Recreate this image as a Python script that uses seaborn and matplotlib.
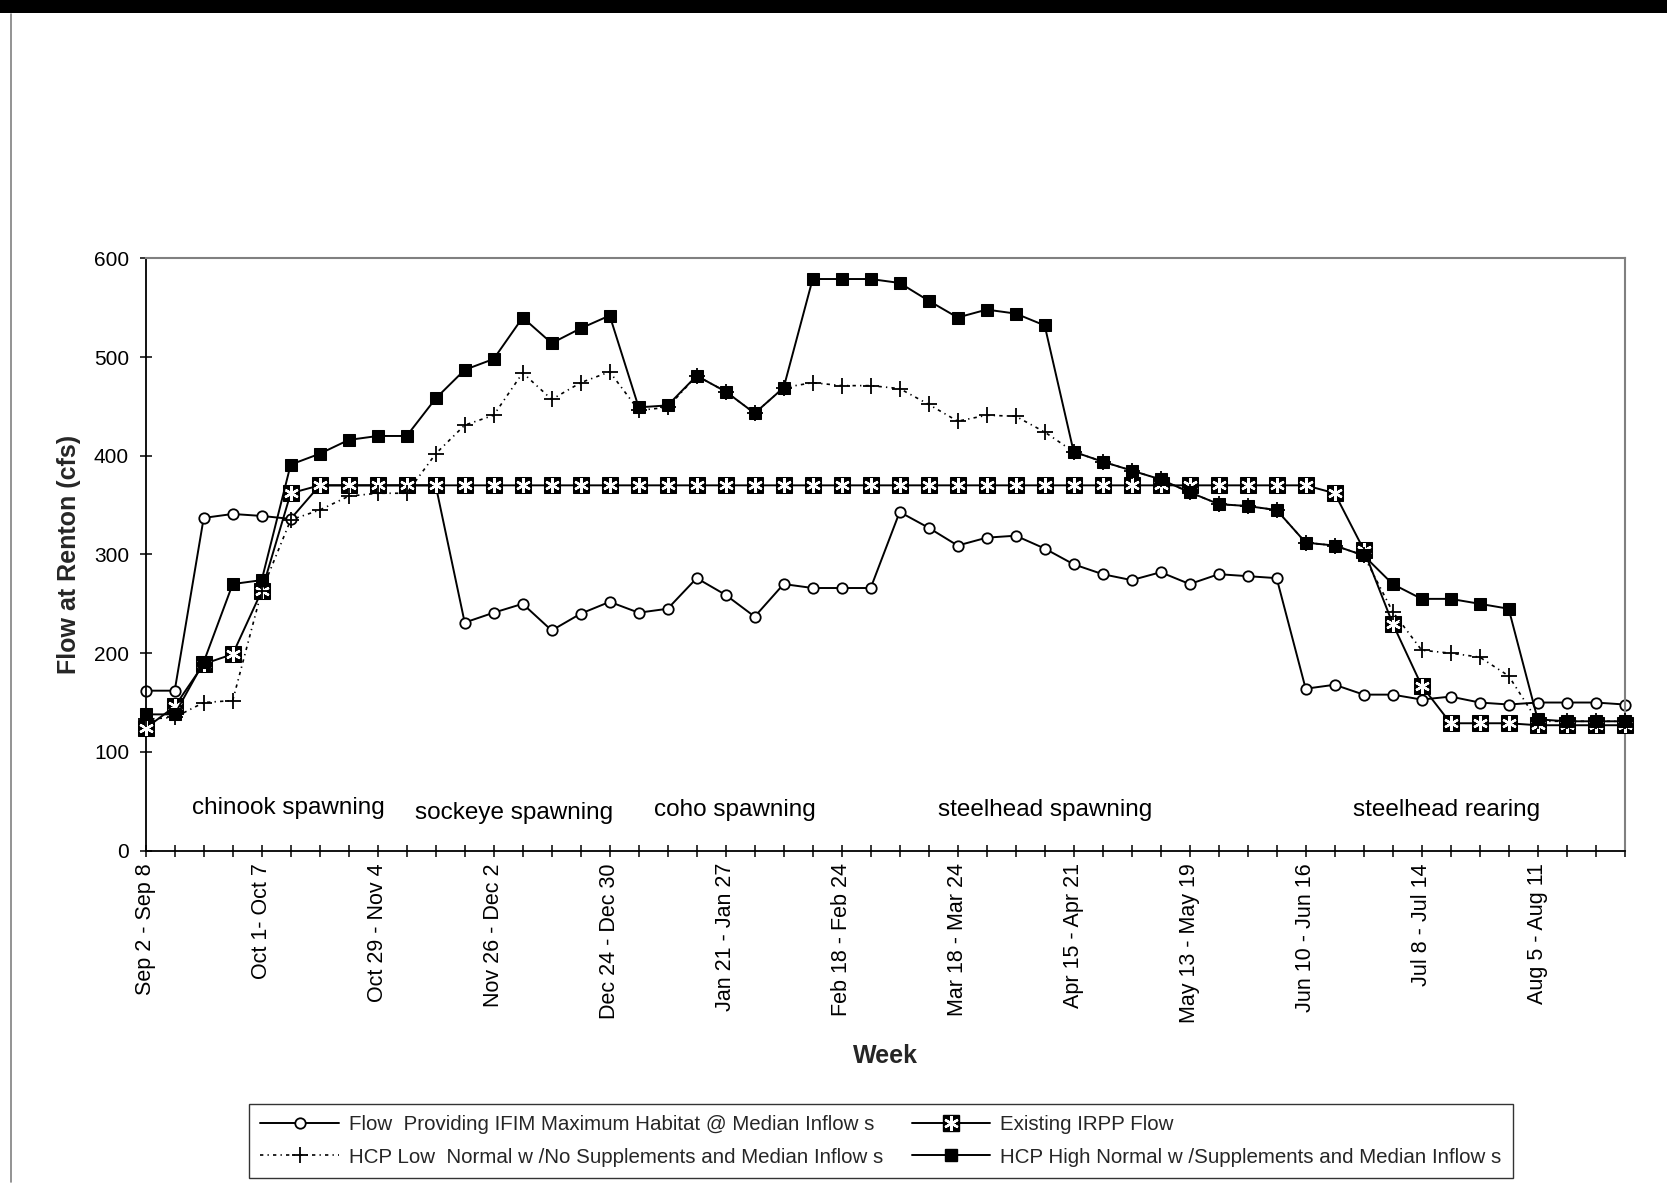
import matplotlib
matplotlib.use("Agg")
import matplotlib.pyplot as plt
from matplotlib.lines import Line2D
from matplotlib.patches import Rectangle
from matplotlib.legend_handler import HandlerTuple
import seaborn as sns

# --- data (cfs at Renton, one value per week) ---
week_idx = list(range(52))

tick_labels = ["Sep 2 - Sep 8", "Oct 1- Oct 7", "Oct 29 - Nov 4", "Nov 26 - Dec 2",
               "Dec 24 - Dec 30", "Jan 21 - Jan 27", "Feb 18 - Feb 24", "Mar 18 - Mar 24",
               "Apr 15 - Apr 21", "May 13 - May 19", "Jun 10 - Jun 16", "Jul 8 - Jul 14",
               "Aug 5 - Aug 11"]

ifim_flow = [162, 162, 337, 341, 339, 336, 370, 370, 370, 370, 370, 231, 241, 250, 223, 240,
             252, 241, 245, 276, 259, 237, 270, 266, 266, 266, 343, 327, 309, 317, 319, 306,
             290, 280, 274, 282, 270, 280, 278, 276, 164, 168, 158, 158, 153, 156, 150, 148,
             150, 150, 150, 148]

irpp_flow = [124, 146, 189, 199, 263, 362, 370, 370, 370, 370, 370, 370, 370, 370, 370, 370,
             370, 370, 370, 370, 370, 370, 370, 370, 370, 370, 370, 370, 370, 370, 370, 370,
             370, 370, 370, 370, 370, 370, 370, 370, 370, 362, 305, 230, 167, 129, 129, 129,
             127, 127, 127, 127]

hcp_low = [133, 135, 150, 152, 263, 335, 345, 359, 362, 362, 402, 431, 441, 484, 457, 474,
           485, 446, 449, 481, 465, 443, 469, 474, 471, 471, 468, 452, 435, 441, 440, 424,
           404, 394, 385, 376, 363, 351, 349, 345, 312, 309, 299, 242, 203, 200, 196, 177,
           131, 131, 131, 131]

hcp_high = [138, 138, 191, 270, 274, 391, 402, 416, 420, 420, 458, 487, 498, 540, 514, 529,
            542, 449, 451, 481, 465, 443, 469, 579, 579, 579, 575, 557, 540, 548, 544, 532,
            404, 394, 385, 376, 363, 351, 349, 345, 312, 309, 299, 270, 255, 255, 250, 245,
            133, 131, 131, 131]

periods = ["chinook spawning", "sockeye spawning", "coho spawning",
           "steelhead spawning", "steelhead rearing"]
period_x = [4.93, 12.7, 20.3, 31.0, 44.85]
period_y = [43, 38, 41, 41, 41]

legend_names = ["Flow  Providing IFIM Maximum Habitat @ Median Inflow s",
                "Existing IRPP Flow",
                "HCP Low  Normal w /No Supplements and Median Inflow s",
                "HCP High Normal w /Supplements and Median Inflow s"]

# --- style ---
sns.set_theme(style="white")
plt.rcParams["font.family"] = ["Liberation Sans", "DejaVu Sans"]

fig = plt.figure(figsize=(16.67, 11.93), dpi=100)
ax = fig.add_axes([0.0874, 0.287, 0.8872, 0.4965])

low_dash = (0, (2.0, 2.5, 0.8, 2.5))

# IFIM maximum habitat (drawn first, sits under the other series)
sns.lineplot(x=week_idx, y=ifim_flow, ax=ax, color="black", lw=1.4, marker="o",
             markersize=7.5, markerfacecolor="white", markeredgecolor="black",
             markeredgewidth=1.3, clip_on=False, zorder=2)

# Existing IRPP: black square with white asterisk
sns.lineplot(x=week_idx, y=irpp_flow, ax=ax, color="black", lw=1.4, marker="s",
             markersize=12, markerfacecolor="black", markeredgecolor="black",
             clip_on=False, zorder=3)
ax.plot(week_idx, irpp_flow, linestyle="none", marker=(6, 2, 0), markersize=10.5,
        markeredgecolor="white", markeredgewidth=1.7, clip_on=False, zorder=3.1)

# HCP low normal
sns.lineplot(x=week_idx, y=hcp_low, ax=ax, color="black", lw=1.2, linestyle=low_dash,
             marker="+", markersize=11, markeredgecolor="black", markeredgewidth=1.3,
             clip_on=False, zorder=4)

# HCP high normal
sns.lineplot(x=week_idx, y=hcp_high, ax=ax, color="black", lw=1.4, marker="s",
             markersize=9, markerfacecolor="black", markeredgecolor="black",
             clip_on=False, zorder=5)

for label, px, py in zip(periods, period_x, period_y):
    ax.text(px, py, label, ha="center", va="center", fontsize=17.5, color="black")

# --- axes ---
ax.set_xlim(0, 51)
ax.set_ylim(0, 600)
ax.set_yticks(range(0, 601, 100))
ax.set_xticks(week_idx)
ax.set_xticklabels([tick_labels[i // 4] if i % 4 == 0 else "" for i in week_idx],
                   rotation=90, fontsize=15.5)
ax.tick_params(axis="x", direction="inout", length=8, width=1.1, pad=5,
               colors="black", bottom=True)
ax.tick_params(axis="y", direction="inout", length=9, width=1.1, pad=7.5,
               labelsize=15, colors="black", left=True)
ax.grid(False)

for side in ["left", "bottom"]:
    ax.spines[side].set_color("black")
    ax.spines[side].set_linewidth(1.3)
for side in ["top", "right"]:
    ax.spines[side].set_color("#808080")
    ax.spines[side].set_linewidth(1.5)

ax.set_ylabel("Flow at Renton (cfs)", fontsize=18, fontweight="bold")
ax.yaxis.set_label_coords(-0.044, 0.5)
ax.set_xlabel("Week", fontsize=18, fontweight="bold")
ax.xaxis.set_label_coords(0.5, -0.326)

# --- legend ---
h_ifim = Line2D([], [], color="black", lw=1.4, marker="o", markersize=7.5,
                markerfacecolor="white", markeredgecolor="black", markeredgewidth=1.3)
h_irpp_sq = Line2D([], [], color="black", lw=1.4, marker="s", markersize=12,
                   markerfacecolor="black", markeredgecolor="black")
h_irpp_x = Line2D([], [], linestyle="none", marker=(6, 2, 0), markersize=10.5,
                  markeredgecolor="white", markeredgewidth=1.7)
h_low = Line2D([], [], color="black", lw=1.2, linestyle=low_dash, marker="+",
               markersize=11, markeredgecolor="black", markeredgewidth=1.3)
h_high = Line2D([], [], color="black", lw=1.4, marker="s", markersize=9,
                markerfacecolor="black", markeredgecolor="black")

leg = fig.legend([h_ifim, h_low, (h_irpp_sq, h_irpp_x), h_high],
                 [legend_names[0], legend_names[2], legend_names[1], legend_names[3]],
                 ncol=2, loc="center", bbox_to_anchor=(0.5285, 0.0436),
                 fontsize=14.8, frameon=True, fancybox=False, edgecolor="black",
                 handlelength=3.8, columnspacing=1.4, labelspacing=0.65,
                 borderpad=0.55, handletextpad=0.5,
                 handler_map={tuple: HandlerTuple(ndivide=1, pad=0)})
leg.get_frame().set_linewidth(1.0)

# --- page decoration: black bar at top and left rule ---
fig.patches.append(Rectangle((0, 1 - 13 / 1193), 1, 13 / 1193, transform=fig.transFigure,
                             facecolor="black", edgecolor="none"))
fig.add_artist(Line2D([10.6 / 1667, 10.6 / 1667], [1 - 14 / 1193, 1 - 1182 / 1193],
                      transform=fig.transFigure, color="#808080", lw=1.2))

fig.savefig("out.png", dpi=100)
